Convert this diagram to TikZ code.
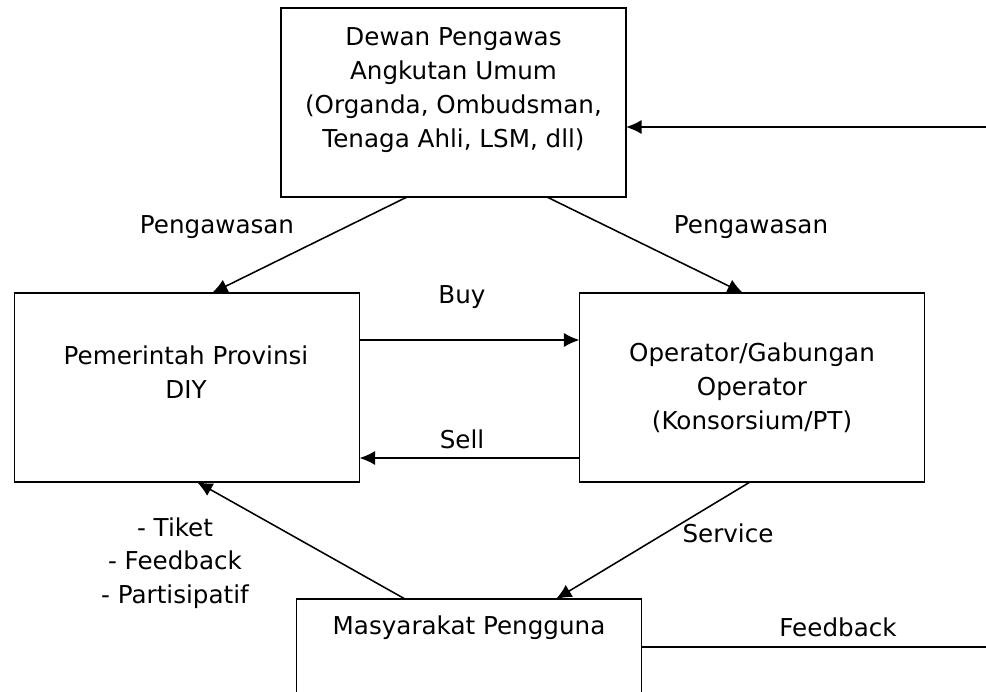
\documentclass[tikz,border=0pt]{standalone}
\usepackage{fontspec}
\setmainfont{DejaVu Sans}
\usetikzlibrary{arrows.meta}
\begin{document}
\begin{tikzpicture}[x=0.025cm,y=-0.025cm,
  box/.style={draw,line width=1.1pt,inner sep=0pt,outer sep=0pt,minimum width=8.625cm,minimum height=4.725cm},
  txt/.style={inner sep=0pt,align=center,font=\fontsize{17.5}{24}\selectfont},
  arr/.style={line width=1.1pt,-{Latex[length=11pt,width=10pt]}},
  ln/.style={line width=1.1pt}]
\useasboundingbox (0,0) rectangle (986,691);
\clip (0,0) rectangle (986,691);
% boxes
\node[box] (top) at (453.5,102.5) {};
\node[box] (left) at (187,387.5) {};
\node[box] (right) at (752,387.5) {};
\node[box] (bot) at (469,693.5) {};
% box texts
\node[txt] (ttop) at (453.5,90) {Dewan Pengawas\\Angkutan Umum\\(Organda, Ombudsman,\\Tenaga Ahli, LSM, dll)};
\node[txt] (tleft) at (186,372) {Pemerintah Provinsi\\DIY};
\node[txt] (tright) at (752,388) {Operator/Gabungan\\Operator\\(Konsorsium/PT)};
\node[txt] (tbot) at (469,628) {Masyarakat Pengguna};
% edge coordinates
\coordinate (e1) at (986,127);
\coordinate (e2) at (986,647);
% connectors
\draw[arr] (407,0 |- top.south) -- (212,0 |- left.north);
\draw[arr] (547,0 |- top.south) -- (743,0 |- right.north);
\draw[arr] (left.east |- 0,340) -- (right.west |- 0,340);
\draw[arr] (right.west |- 0,458) -- (left.east |- 0,458);
\draw[arr] (405,0 |- bot.north) -- (197,0 |- left.south);
\draw[arr] (750,0 |- right.south) -- (556,0 |- bot.north);
\draw[ln] (bot.east |- e2) -- (e2);
\draw[arr] (e1) -- (top.east |- e1);
% labels
\node[txt] (lpl) at (217,227) {Pengawasan};
\node[txt] (lpr) at (751,227) {Pengawasan};
\node[txt] (lbuy) at (462,297) {Buy};
\node[txt] (lsell) at (462,439) {Sell};
\node[txt] (lserv) at (728,533) {Service};
\node[txt] (lfb) at (838,627) {Feedback};
\node[txt] (ltik) at (175,563) {- Tiket\\- Feedback\\- Partisipatif};
\end{tikzpicture}
\end{document}
